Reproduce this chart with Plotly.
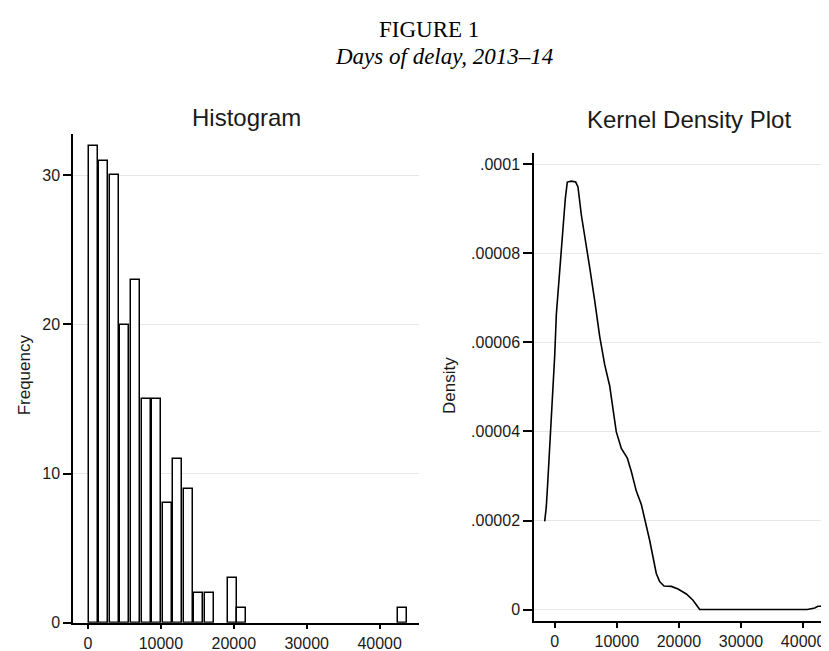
import plotly.graph_objects as go

# ---------------- data ----------------
hist_centers = [724, 2172, 3620, 5068, 6516, 7964, 9412, 10860, 12308, 13756,
                15204, 16652, 19795, 21100, 43170]
hist_counts = [32, 31, 30, 20, 23, 15, 15, 8, 11, 9, 2, 2, 3, 1, 1]
bin_width = 1448

kde_x = [-1610, -1350, -1080, -805, -550, -270, 0, 270, 640, 1070, 1340, 1710,
         2030, 2680, 3380, 3750, 4290, 4930, 5640, 6440, 7250, 8050, 8860, 9390,
         9920, 10730, 11700, 12340, 13140, 13950, 14750, 15300, 15830, 16360,
         16900, 17600, 18780, 19860, 21200, 22270, 22800, 23350, 40680, 41870,
         42400, 44980]
kde_y = [1.98e-5, 2.31e-5, 2.95e-5, 3.6e-5, 4.28e-5, 5.06e-5, 5.7e-5, 6.64e-5,
         7.35e-5, 8.12e-5, 8.64e-5, 9.23e-5, 9.6e-5, 9.62e-5, 9.6e-5, 9.49e-5,
         8.86e-5, 8.34e-5, 7.68e-5, 6.94e-5, 6.13e-5, 5.5e-5, 5.02e-5, 4.5e-5,
         3.99e-5, 3.62e-5, 3.4e-5, 3.1e-5, 2.66e-5, 2.36e-5, 1.92e-5, 1.55e-5,
         1.18e-5, 8.1e-6, 6.3e-6, 5.3e-6, 5.2e-6, 4.6e-6, 3.5e-6, 2.1e-6, 1.1e-6,
         0.0, 0.0, 3.7e-7, 7.4e-7, 7.4e-7]

x_ticks = [0, 10000, 20000, 30000, 40000]
freq_ticks = [0, 10, 20, 30]
dens_ticks = [0, 0.00002, 0.00004, 0.00006, 0.00008, 0.0001]
dens_labels = ["0", ".00002", ".00004", ".00006", ".00008", ".0001"]

# ---------------- figure ----------------
W, H = 829, 651
SANS = "Liberation Sans, Arial, sans-serif"
SERIF = "Liberation Serif, Times New Roman, serif"
TXT = "#1a1a1a"
GRID = "#e6e6e6"

def px_x(p):
    return p / W

def px_y(p):
    return 1 - p / H

fig = go.Figure()

fig.add_trace(go.Bar(
    x=hist_centers, y=hist_counts,
    width=bin_width - 208,
    marker=dict(color="white", line=dict(color="black", width=1.5)),
    xaxis="x", yaxis="y", showlegend=False, hoverinfo="x+y",
))

fig.add_trace(go.Scatter(
    x=kde_x, y=kde_y, mode="lines",
    line=dict(color="black", width=1.6),
    xaxis="x2", yaxis="y2", showlegend=False,
))

axis_common = dict(
    showline=True, linecolor="black", linewidth=1.5,
    ticks="outside", tickcolor="black", tickwidth=1.5,
    tickfont=dict(family=SANS, size=16, color=TXT),
    zeroline=False,
)

fig.update_layout(
    width=W, height=H,
    margin=dict(l=0, r=0, t=0, b=0),
    paper_bgcolor="white", plot_bgcolor="white",
    bargap=0,
    xaxis=dict(axis_common, domain=[px_x(65), px_x(411)], range=[-2058, 45400],
               tickvals=x_ticks, tickformat="d", ticklen=5, showgrid=False,
               anchor="y"),
    yaxis=dict(axis_common, domain=[px_y(623.3), px_y(127.7)], range=[0, 32.78],
               tickvals=freq_ticks, ticklen=8, showgrid=True, gridcolor=GRID,
               gridwidth=1.2, anchor="x"),
    xaxis2=dict(axis_common, domain=[px_x(526), 1.0], range=[-3333, 45460],
                tickvals=x_ticks, tickformat="d", ticklen=5, showgrid=False,
                anchor="y2"),
    yaxis2=dict(axis_common, domain=[px_y(621.7), px_y(146.7)],
                range=[-2.59e-6, 1.026e-4], tickvals=dens_ticks,
                ticktext=dens_labels, ticklen=9, showgrid=True, gridcolor=GRID,
                gridwidth=1.2, anchor="x2"),
)

annotations = [
    dict(text="FIGURE 1", x=px_x(421), y=px_y(21.7), font=dict(family=SERIF, size=23, color="black")),
    dict(text="<i>Days of delay, 2013–14</i>", x=px_x(436), y=px_y(48.8), font=dict(family=SERIF, size=23, color="black")),
    dict(text="Histogram", x=px_x(238), y=px_y(111.4), font=dict(family=SANS, size=24, color=TXT)),
    dict(text="Kernel Density Plot", x=px_x(681), y=px_y(113.4), font=dict(family=SANS, size=24, color=TXT)),
    dict(text="Frequency", x=px_x(16), y=px_y(372.5), textangle=-90, font=dict(family=SANS, size=17, color=TXT)),
    dict(text="Density", x=px_x(441.7), y=px_y(382.5), textangle=-90, font=dict(family=SANS, size=17, color=TXT)),
]
for a in annotations:
    a.update(xref="paper", yref="paper", xanchor="center", yanchor="middle", showarrow=False)
fig.update_layout(annotations=annotations)

fig.write_html("out.html")
